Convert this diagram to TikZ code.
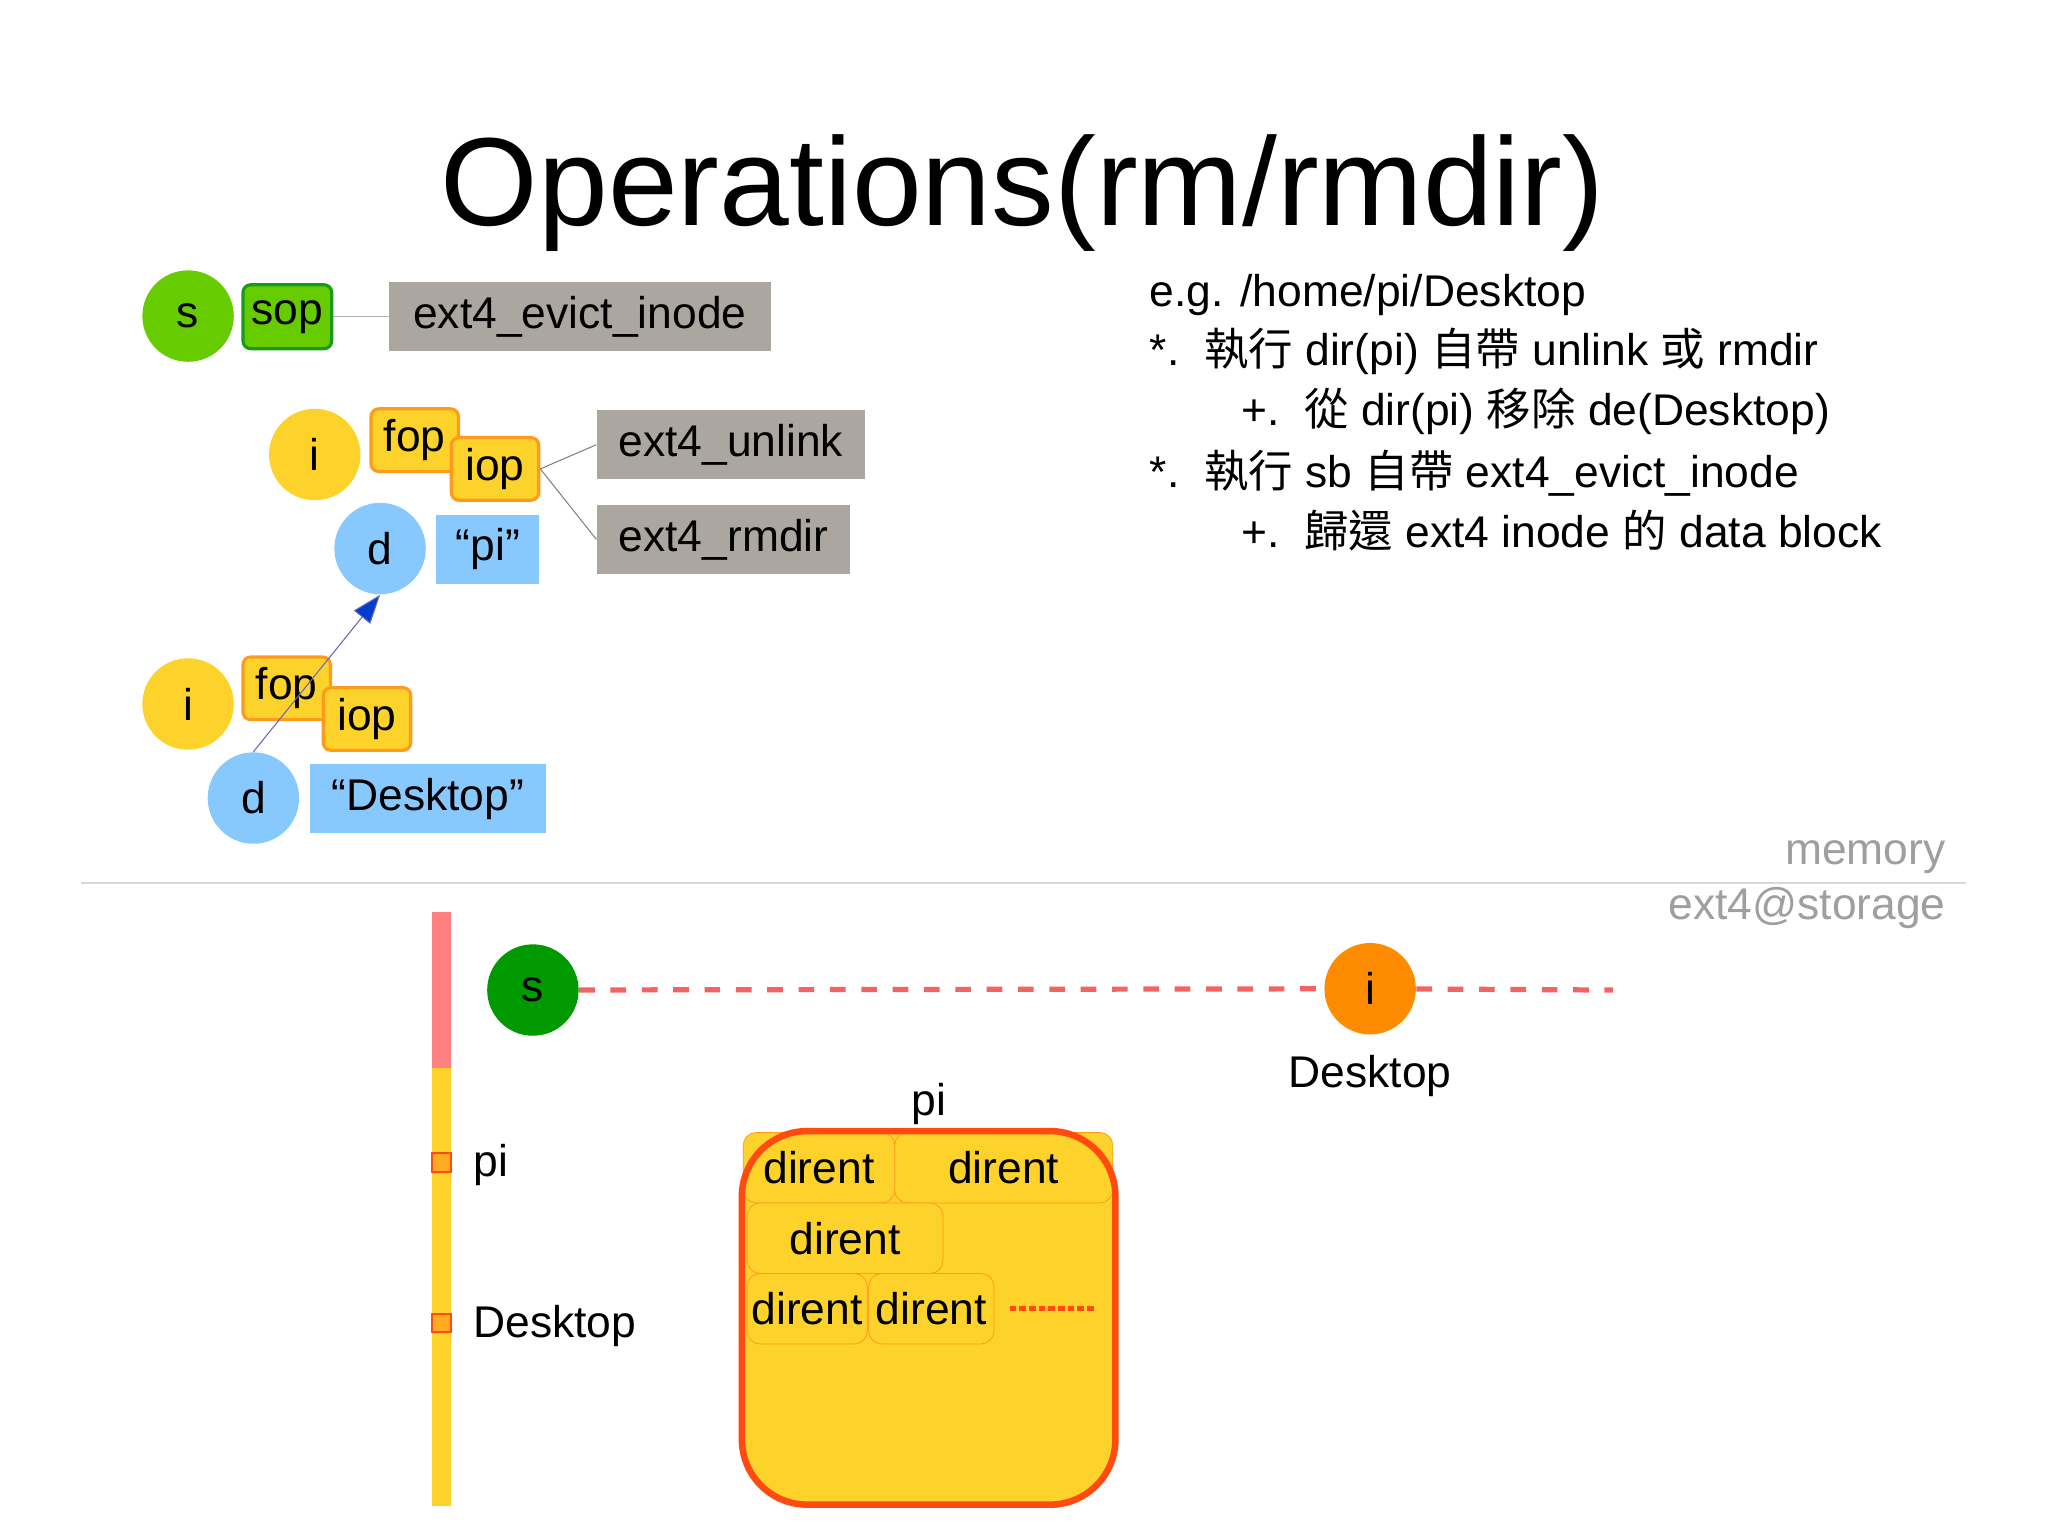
\documentclass[tikz,border=0pt]{standalone}
\usepackage{fontspec}
\setmainfont{Liberation Sans}
\newfontfamily\cjk{Noto Sans CJK TC}
\usetikzlibrary{arrows.meta}
\definecolor{lgreen}{HTML}{66CC00}
\definecolor{dgreen}{HTML}{1A9A1A}
\definecolor{yel}{HTML}{FDD22A}
\definecolor{orb}{HTML}{FF9B1C}
\definecolor{lblue}{HTML}{87C8FF}
\definecolor{gbox}{HTML}{ABA6A0}
\definecolor{redb}{HTML}{FF4A10}
\definecolor{pink}{HTML}{F26464}
\begin{document}
\begin{tikzpicture}[x=0.5pt,y=-0.5pt,
  every node/.style={font=\fontsize{17}{20}\selectfont, inner sep=0pt},
  circ/.style={circle, minimum size=35pt, draw=none},
  op/.style={rounded corners=3pt, draw=orb, line width=1.2pt, fill=yel, minimum width=33.5pt, minimum height=24pt},
  fn/.style={fill=gbox, minimum height=26.5pt},
  nm/.style={fill=lblue, minimum height=26.5pt},
  dir/.style={draw=orb, line width=0.3pt, fill=yel, rounded corners=5pt, minimum height=27pt},
  txt/.style={anchor=base west, font=\fontsize{17}{20}\selectfont}]
\useasboundingbox (0,0) rectangle (1568,1176);
\node[font=\fontsize{48}{56}\selectfont] (title) at (783,148) {Operations(rm/rmdir)};
% superblock
\node[circ, fill=lgreen] (s1) at (144,242) {s};
\node[rounded corners=3pt, draw=dgreen, line width=1.2pt, fill=lgreen, minimum width=34pt, minimum height=24.5pt] (sop) at (220,242.5) {sop};
\node[fn, minimum width=146pt] (ev) at (444,242.5) {ext4\_evict\_inode};
\draw[gray!60, line width=0.5pt] (sop) -- (ev);
% pi inode
\node[circ, fill=yel] (i1) at (241,348) {i};
\node[op] (fop1) at (317.5,337) {fop};
\node[op] (iop1) at (379,359) {iop};
\node[fn, minimum width=102.5pt] (un) at (559.5,340.5) {ext4\_unlink};
\node[fn, minimum width=97pt] (rm) at (554,413) {ext4\_rmdir};
\draw[gray, line width=0.4pt] (iop1.east) -- (un.west);
\draw[gray, line width=0.4pt] (iop1.east) -- (rm.west);
\node[circ, fill=lblue] (d1) at (291,420) {d};
\node[nm, minimum width=39.5pt] (pin) at (373.5,420.5) {“pi”};
% Desktop inode
\node[circ, fill=yel] (i2) at (144,539) {i};
\node[op] (fop2) at (219.5,527) {fop};
\node[op] (iop2) at (281,550.5) {iop};
\node[circ, fill=lblue] (d2) at (194,611) {d};
\node[nm, minimum width=90.5pt] (dn) at (327.5,611.5) {“Desktop”};
\draw[draw=blue!60!black!60, line width=0.4pt, -{Triangle[length=11pt,width=8pt,fill=blue!70!cyan!80!black]}] (d2.north) -- (d1.south);
% notes
\node[txt] (n1) at (880,235) {e.g. /home/pi/Desktop};
\node[txt] (n2) at (880,280) {*.\ \ {\cjk 執行} dir(pi) {\cjk 自帶} unlink {\cjk 或} rmdir};
\node[txt] (n3) at (950,326) {+.\ \ {\cjk 從} dir(pi) {\cjk 移除} de(Desktop)};
\node[txt] (n4) at (880,373) {*.\ \ {\cjk 執行} sb {\cjk 自帶} ext4\_evict\_inode};
\node[txt] (n5) at (950,419) {+.\ \ {\cjk 歸還} ext4 inode {\cjk 的} data block};
% separator
\draw[gray!30, line width=0.5pt] (62,676) -- (1505,676);
\node[anchor=east, text=gray!75] (mem) at (1490,656) {memory};
\node[anchor=east, text=gray!75] (sto) at (1490,695) {ext4@storage};
% storage bar
\fill[red!50] (331,698) rectangle (345,818);
\fill[yel] (331,818) rectangle (345,1153);
\node[draw=redb, line width=0.8pt, fill=orb!70!yel, minimum size=7pt] (q1) at (338,890) {};
\node[draw=redb, line width=0.8pt, fill=orb!70!yel, minimum size=7pt] (q2) at (338,1013) {};
\node[anchor=west] (lpi) at (362,892) {pi};
\node[anchor=west] (ldt) at (362,1015) {Desktop};
% s and i on storage
\node[circ, fill=green!60!black] (s2) at (408,758) {s};
\node[circ, fill=orange!90!yellow] (i3) at (1049,757) {i};
\coordinate (dend) at (1235,758);
\draw[pink, line width=2pt, dash pattern=on 6pt off 6pt] (s2) -- (i3);
\draw[pink, line width=2pt, dash pattern=on 6pt off 6pt] (i3) -- (dend);
\node (ldt2) at (1049,824) {Desktop};
\node (lpi2) at (711,845) {pi};
% directory block
\fill[yel, rounded corners=25pt] (568,866) rectangle (854,1152);
\node[dir, minimum width=58pt] (de1) at (627,894) {dirent};
\node[dir, minimum width=83.5pt] (de2) at (768.5,894) {dirent};
\node[dir, minimum width=75pt] (de3) at (647,948) {dirent};
\node[dir, minimum width=46pt] (de4) at (618,1002) {dirent};
\node[dir, minimum width=48pt] (de5) at (713,1002) {dirent};
\draw[redb, line width=2.5pt, rounded corners=25pt] (568,866) rectangle (854,1152);
\coordinate (ds) at (773,1002);
\coordinate (de) at (838,1002);
\draw[redb, line width=2pt, dash pattern=on 2.5pt off 1.2pt] (ds) -- (de);
\end{tikzpicture}
\end{document}
